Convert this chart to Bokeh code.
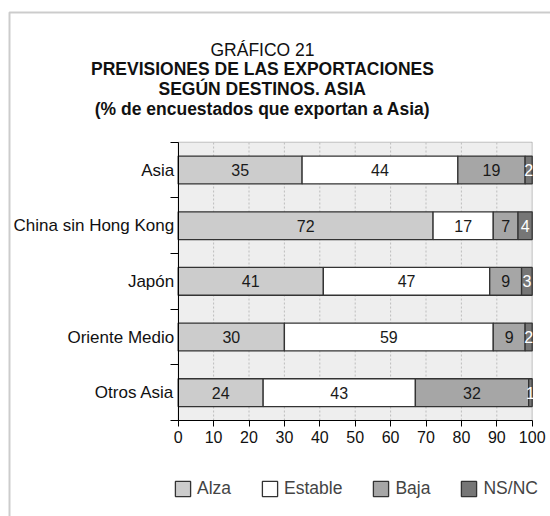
from bokeh.plotting import figure
from bokeh.models import (Range1d, FixedTicker, Legend, LegendItem, Label,
                          BoxAnnotation, ColumnDataSource)
from bokeh.core.properties import value
from bokeh.embed import file_html
from bokeh.resources import INLINE

# ---------------- data ----------------
categories = ["Asia", "China sin Hong Kong", "Japón", "Oriente Medio", "Otros Asia"]
alza = [35, 72, 41, 30, 24]
estable = [44, 17, 47, 59, 43]
baja = [19, 7, 9, 9, 32]
nsnc = [2, 4, 3, 2, 1]
series_names = ["Alza", "Estable", "Baja", "NS/NC"]
x_ticks = [0, 10, 20, 30, 40, 50, 60, 70, 80, 90, 100]
title_lines = ["GRÁFICO 21",
               "PREVISIONES DE LAS EXPORTACIONES",
               "SEGÚN DESTINOS. ASIA",
               "(% de encuestados que exportan a Asia)"]

# ---------------- styles / layout ----------------
FONT = "Liberation Sans"
colors = ["#cccccc", "#ffffff", "#a6a6a6", "#767676"]
label_colors = ["#1a1a1a", "#1a1a1a", "#1a1a1a", "#ffffff"]
W, H = 550, 516
n = len(categories)

# The frame covers the whole canvas; axes are pinned at x=0 / y=0 so that
# titles, category labels and legend all live inside the (unclipped) frame.
PX_X = 3.54      # pixels per percentage point
PX_Y = 55.66     # pixels per category row
X0_PX = 177.7    # canvas x of value 0
Y0_PX = 420.0    # canvas y (from top) of the bottom of the bar area
x_lo = -X0_PX / PX_X
x_hi = (W - X0_PX) / PX_X
y_lo = -(H - Y0_PX) / PX_Y
y_hi = Y0_PX / PX_Y

ys = [n - i - 0.5 for i in range(n)]
source = ColumnDataSource(dict(y=ys, Alza=alza, Estable=estable, Baja=baja, **{"NS/NC": nsnc}))

p = figure(width=W, height=H, output_backend="svg", toolbar_location=None,
           x_range=Range1d(x_lo, x_hi), y_range=Range1d(y_lo, y_hi),
           min_border=0)
p.title.visible = False
p.background_fill_color = "#ffffff"
p.border_fill_color = "#ffffff"
p.outline_line_color = None
p.xgrid.visible = False
p.ygrid.visible = False

# plot area background
p.add_layout(BoxAnnotation(left=0, right=100, bottom=0, top=n,
                           fill_color="#eeeeee", fill_alpha=1,
                           line_color="#444444", line_width=1, level="image"))

# dashed vertical grid lines
grid_x = x_ticks[1:-1]
p.segment(x0=grid_x, y0=[0] * len(grid_x), x1=grid_x, y1=[n] * len(grid_x),
          line_color="#bdbdbd", line_dash="2 2", line_width=1, level="underlay")

renderers = p.hbar_stack(series_names, y="y", height=0.5, source=source,
                         fill_color=colors, line_color="#333333", line_width=1.3)

# value labels
series_vals = [alza, estable, baja, nsnc]
for k, vals in enumerate(series_vals):
    centers = []
    for i in range(n):
        left = sum(series_vals[j][i] for j in range(k))
        centers.append(left + vals[i] / 2)
    p.text(x=centers, y=ys, text=[str(v) for v in vals], text_align="center",
           text_baseline="middle", text_font=value(FONT), text_font_size="16px",
           text_color=label_colors[k])

# x axis
xa = p.xaxis[0]
xa.fixed_location = 0
xa.bounds = (0, 100)
xa.ticker = FixedTicker(ticks=x_ticks, minor_ticks=[])
xa.major_tick_out = 6
xa.major_tick_in = 0
xa.major_label_standoff = 4
xa.major_label_text_font = FONT
xa.major_label_text_font_size = "16px"
xa.major_label_text_color = "#111111"
xa.axis_line_color = "#000000"
xa.major_tick_line_color = "#000000"

# y axis (labels centred on rows, ticks on row boundaries)
ya = p.yaxis[0]
ya.fixed_location = 0
ya.bounds = (0, n)
ya.ticker = FixedTicker(ticks=ys, minor_ticks=[float(i) for i in range(n + 1)])
ya.major_label_overrides = {y: c for y, c in zip(ys, categories)}
ya.major_tick_out = 0
ya.major_tick_in = 0
ya.minor_tick_out = 8
ya.minor_tick_in = 0
ya.minor_tick_line_color = "#000000"
ya.major_label_standoff = -4
ya.major_label_text_font = FONT
ya.major_label_text_font_size = "17px"
ya.major_label_text_color = "#111111"
ya.axis_line_color = "#000000"

# outer frame (left and top edges visible, as in the source page)
p.add_layout(BoxAnnotation(left=x_lo + 9 / PX_X, right=x_hi + 10,
                           top=y_hi - 12 / PX_Y, bottom=y_lo - 10,
                           fill_alpha=0, line_color="#555555", line_width=2,
                           level="overlay"))

# titles
title_canvas_y = [49, 68.5, 88.5, 108]
for k, (t, cy) in enumerate(zip(title_lines, title_canvas_y)):
    p.add_layout(Label(x=262, y=H - cy, x_units="screen", y_units="screen",
                       text=t, text_align="center", text_baseline="middle",
                       text_font=FONT, text_font_size="17.5px",
                       text_font_style="normal" if k == 0 else "bold",
                       text_color="#111111"))

# legend
items = [LegendItem(label=name, renderers=[r]) for name, r in zip(series_names, renderers)]
legend = Legend(items=items, orientation="horizontal", location=(173, 17),
                glyph_width=19, glyph_height=19, label_standoff=5, spacing=29,
                padding=0, margin=0, border_line_color=None,
                background_fill_alpha=0, label_text_font=FONT,
                label_text_font_size="17.5px", label_height=19)
p.add_layout(legend, "center")

open("out.html", "w").write(file_html(p, INLINE))
